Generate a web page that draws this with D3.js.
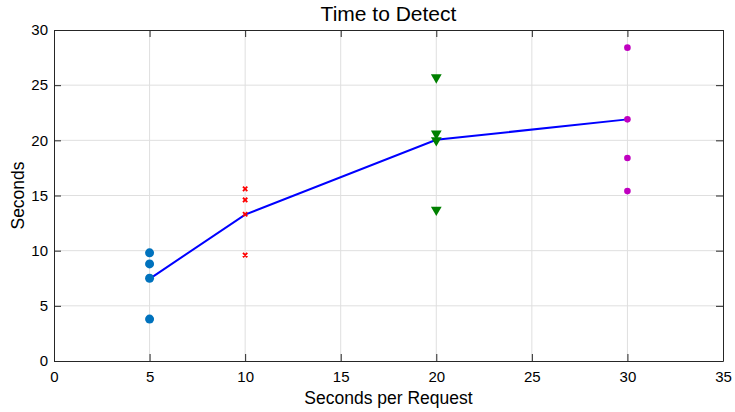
<!DOCTYPE html>
<html>
<head>
<meta charset="utf-8">
<script src="https://cdn.jsdelivr.net/npm/d3@7"></script>
<style>
  body { margin: 0; background: #fff; }
  svg { display: block; font-family: "Liberation Sans", Arial, sans-serif; }
</style>
</head>
<body>
<div id="chart"></div>
<script>
// data
const xValues = [5, 10, 20, 30];
const blueCircles = [9.8, 8.8, 7.5, 3.8];      // x = 5
const redCrosses = [15.6, 14.6, 13.3, 9.6];    // x = 10
const greenTriangles = [25.7, 20.6, 20.0, 13.7]; // x = 20
const magentaDots = [28.4, 21.9, 18.4, 15.4];  // x = 30
const lineValues = [7.45, 13.27, 20.05, 21.9];
const xTicks = [0, 5, 10, 15, 20, 25, 30, 35];
const yTicks = [0, 5, 10, 15, 20, 25, 30];

const width = 735, height = 412;
const margin = { top: 30, right: 12, bottom: 51, left: 54 };
const innerW = width - margin.left - margin.right;
const innerH = height - margin.top - margin.bottom;

const svg = d3.select('#chart').append('svg')
    .attr('width', width)
    .attr('height', height);

const g = svg.append('g')
    .attr('transform', `translate(${margin.left},${margin.top})`);

const x = d3.scaleLinear().domain([0, 35]).range([0, innerW]);
const y = d3.scaleLinear().domain([0, 30]).range([innerH, 0]);

const axisColor = '#262626';
const gridColor = '#dfdfdf';

// grid
g.append('g').selectAll('line')
    .data(xTicks.slice(1, -1))
    .enter().append('line')
    .attr('x1', d => x(d)).attr('x2', d => x(d))
    .attr('y1', 0).attr('y2', innerH)
    .attr('stroke', gridColor).attr('stroke-width', 1);
g.append('g').selectAll('line')
    .data(yTicks.slice(1, -1))
    .enter().append('line')
    .attr('x1', 0).attr('x2', innerW)
    .attr('y1', d => y(d)).attr('y2', d => y(d))
    .attr('stroke', gridColor).attr('stroke-width', 1);

// axes (MATLAB style: ticks inward, on every side)
function styleAxis(sel) {
    sel.select('.domain').attr('stroke', axisColor).attr('stroke-width', 1);
    sel.selectAll('.tick line').attr('stroke', axisColor);
    sel.selectAll('.tick text').attr('fill', '#000').style('font-size', '15px')
        .style('font-family', '"Liberation Sans", Arial, sans-serif');
}

g.append('g')
    .attr('transform', `translate(0,${innerH})`)
    .call(d3.axisBottom(x).tickValues(xTicks).tickSize(-7).tickPadding(10).tickSizeOuter(0))
    .call(styleAxis);
g.append('g')
    .call(d3.axisTop(x).tickValues(xTicks).tickSize(-7).tickSizeOuter(0).tickFormat(''))
    .call(styleAxis);
g.append('g')
    .call(d3.axisLeft(y).tickValues(yTicks).tickSize(-7).tickPadding(6).tickSizeOuter(0))
    .call(styleAxis);
g.append('g')
    .attr('transform', `translate(${innerW},0)`)
    .call(d3.axisRight(y).tickValues(yTicks).tickSize(-7).tickSizeOuter(0).tickFormat(''))
    .call(styleAxis);

// line
const line = d3.line()
    .x((d, i) => x(xValues[i]))
    .y(d => y(d));
g.append('path')
    .datum(lineValues)
    .attr('fill', 'none')
    .attr('stroke', '#0000ff')
    .attr('stroke-width', 2)
    .attr('d', line);

// blue circles
g.selectAll('.blue')
    .data(blueCircles)
    .enter().append('circle')
    .attr('cx', x(xValues[0]))
    .attr('cy', d => y(d))
    .attr('r', 4.5)
    .attr('fill', '#0072bd');

// red crosses
const cross = d3.symbol().type(d3.symbolX).size(14);
g.selectAll('.red')
    .data(redCrosses)
    .enter().append('path')
    .attr('d', cross)
    .attr('transform', d => `translate(${x(xValues[1])},${y(d)})`)
    .attr('fill', 'none')
    .attr('stroke', '#ff0000')
    .attr('stroke-width', 1.8);

// green down triangles
const tri = d3.symbol().type(d3.symbolTriangle).size(50);
g.selectAll('.green')
    .data(greenTriangles)
    .enter().append('path')
    .attr('d', tri)
    .attr('transform', d => `translate(${x(xValues[2])},${y(d)}) rotate(180)`)
    .attr('fill', '#008000');

// magenta dots
g.selectAll('.magenta')
    .data(magentaDots)
    .enter().append('circle')
    .attr('cx', x(xValues[3]))
    .attr('cy', d => y(d))
    .attr('r', 3.3)
    .attr('fill', '#c000c0');

// title and labels
svg.append('text')
    .attr('x', margin.left + innerW / 2)
    .attr('y', 21)
    .attr('text-anchor', 'middle')
    .style('font-size', '21px')
    .text('Time to Detect');
svg.append('text')
    .attr('x', margin.left + innerW / 2)
    .attr('y', 404)
    .attr('text-anchor', 'middle')
    .style('font-size', '17.5px')
    .text('Seconds per Request');
svg.append('text')
    .attr('transform', `translate(24,${margin.top + innerH / 2}) rotate(-90)`)
    .attr('text-anchor', 'middle')
    .style('font-size', '17.5px')
    .text('Seconds');
</script>
</body>
</html>
